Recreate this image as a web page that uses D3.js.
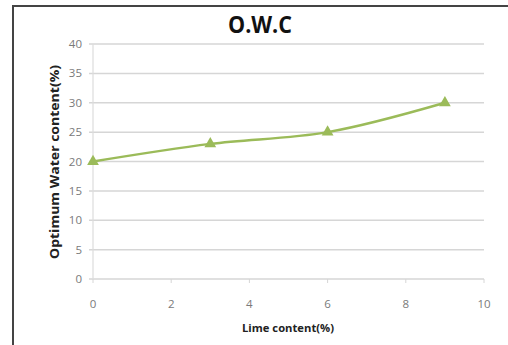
<!DOCTYPE html>
<html>
<head>
<meta charset="utf-8">
<script src="https://cdn.jsdelivr.net/npm/d3@7"></script>
<style>
  body { margin: 0; background: #fff; }
  text { font-family: "Open Sans", "Liberation Sans", sans-serif; }
</style>
</head>
<body>
<script>
var limeContent = [0, 3, 6, 9];
var waterContent = [20, 23, 25, 30];
var xTicks = [0, 2, 4, 6, 8, 10];
var yTicks = [0, 5, 10, 15, 20, 25, 30, 35, 40];

var width = 508, height = 345;
var svg = d3.select("body").append("svg")
    .attr("width", width)
    .attr("height", height);

// outer frame (only top + left visible in the picture)
svg.append("path")
    .attr("d", "M13,345 L13,6 L508,6")
    .attr("fill", "none")
    .attr("stroke", "#444")
    .attr("stroke-width", 2);

var x = d3.scaleLinear().domain([0, 10]).range([93, 484]);
var y = d3.scaleLinear().domain([0, 40]).range([279, 44]);

// horizontal gridlines
svg.append("g").selectAll("line")
    .data(yTicks)
    .enter().append("line")
    .attr("x1", 89).attr("x2", x(10))
    .attr("y1", function(d) { return y(d); })
    .attr("y2", function(d) { return y(d); })
    .attr("stroke", "#d6d6d6")
    .attr("stroke-width", 1.5);

// y axis line
svg.append("line")
    .attr("x1", x(0)).attr("x2", x(0))
    .attr("y1", y(40)).attr("y2", y(0))
    .attr("stroke", "#dcdcdc").attr("stroke-width", 1.2);

// x tick marks
svg.append("g").selectAll("line")
    .data(xTicks)
    .enter().append("line")
    .attr("x1", function(d) { return x(d); })
    .attr("x2", function(d) { return x(d); })
    .attr("y1", y(0)).attr("y2", y(0) + 4)
    .attr("stroke", "#d6d6d6");

// tick labels
svg.append("g").selectAll("text")
    .data(yTicks)
    .enter().append("text")
    .attr("x", 82)
    .attr("y", function(d) { return y(d) + 4; })
    .attr("text-anchor", "end")
    .attr("font-size", 11.5)
    .attr("fill", "#7a7a7a")
    .text(function(d) { return d; });

svg.append("g").selectAll("text")
    .data(xTicks)
    .enter().append("text")
    .attr("x", function(d) { return x(d); })
    .attr("y", 308)
    .attr("text-anchor", "middle")
    .attr("font-size", 11.5)
    .attr("fill", "#7a7a7a")
    .text(function(d) { return d; });

// series
var pts = limeContent.map(function(d, i) { return [d, waterContent[i]]; });
var line = d3.line()
    .x(function(d) { return x(d[0]); })
    .y(function(d) { return y(d[1]); })
    .curve(d3.curveCatmullRom.alpha(0.5));

svg.append("path")
    .datum(pts)
    .attr("d", line)
    .attr("fill", "none")
    .attr("stroke", "#9bbb59")
    .attr("stroke-width", 2.5);

svg.append("g").selectAll("path")
    .data(pts)
    .enter().append("path")
    .attr("d", d3.symbol().type(d3.symbolTriangle).size(60))
    .attr("transform", function(d) { return "translate(" + x(d[0]) + "," + y(d[1]) + ")"; })
    .attr("fill", "#9bbb59");

// titles
svg.append("text")
    .attr("x", 260).attr("y", 33)
    .attr("text-anchor", "middle")
    .attr("font-size", 23)
    .attr("font-weight", "bold")
    .attr("fill", "#111")
    .attr("textLength", 64)
    .attr("lengthAdjust", "spacingAndGlyphs")
    .text("O.W.C");

svg.append("text")
    .attr("transform", "translate(59,162) rotate(-90)")
    .attr("text-anchor", "middle")
    .attr("font-size", 12)
    .attr("font-weight", "bold")
    .attr("fill", "#222")
    .attr("textLength", 194)
    .attr("lengthAdjust", "spacingAndGlyphs")
    .text("Optimum Water content(%)");

svg.append("text")
    .attr("x", 288).attr("y", 332)
    .attr("text-anchor", "middle")
    .attr("font-size", 11)
    .attr("font-weight", "bold")
    .attr("fill", "#222")
    .attr("textLength", 92)
    .attr("lengthAdjust", "spacingAndGlyphs")
    .text("Lime content(%)");
</script>
</body>
</html>
